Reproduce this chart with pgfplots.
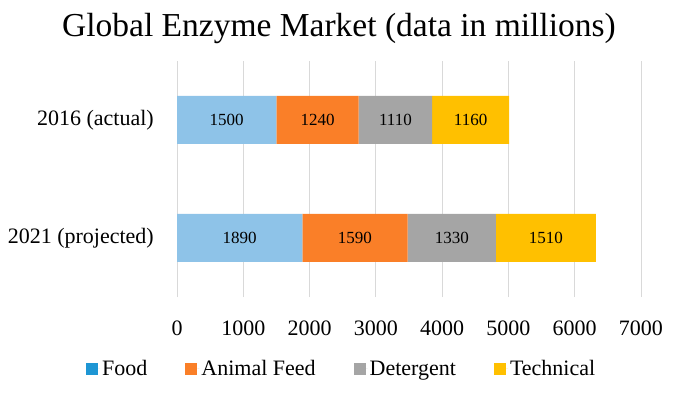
\documentclass[border=0pt]{standalone}
\usepackage{fontspec}
\setmainfont{Liberation Serif}
\usepackage{pgfplots}
\usepackage{pgfplotstable}
\pgfplotsset{compat=1.18}
\definecolor{cfood}{RGB}{142,195,232}
\definecolor{cfoodleg}{RGB}{30,150,212}
\definecolor{cfeed}{RGB}{250,127,40}
\definecolor{cdet}{RGB}{165,165,165}
\definecolor{ctech}{RGB}{255,192,0}
\definecolor{cgrid}{RGB}{217,217,217}
\pgfplotstableread{
cat food feed det tech
0 1890 1590 1330 1510
1 1500 1240 1110 1160
}\data
\begin{document}
\begin{tikzpicture}[font=\fontsize{22bp}{26bp}\selectfont]
\begin{axis}[
  name=ax, at={(177bp,97bp)}, anchor=south west,
  scale only axis, width=464bp, height=236bp,
  xbar stacked, bar width=48bp,
  xmin=0, xmax=7000, ymin=-0.5, ymax=1.5,
  xtick={0,1000,2000,3000,4000,5000,6000,7000},
  ytick={0,1}, yticklabels={2021 (projected),2016 (actual)},
  xmajorgrids, major grid style={draw=cgrid, line width=0.75bp},
  axis line style={draw=none},
  tick style={draw=none},
  scaled x ticks=false,
  /pgf/number format/assume math mode=true,
  /pgf/number format/1000 sep={},
  xticklabel style={anchor=base, yshift=-38bp},
  yticklabel style={anchor=east, inner sep=0pt, xshift=-23bp},
  visualization depends on={rawx \as \rawx},
  nodes near coords={\pgfmathprintnumber{\rawx}},
  nodes near coords style={anchor=center, text=black, font=\fontsize{17bp}{20bp}\selectfont},
  title={Global Enzyme Market (data in millions)},
  title style={font=\fontsize{33.5bp}{38bp}\selectfont, at={(axis description cs:0.349,1)}, anchor=base, yshift=19bp},
  legend columns=4,
  legend style={draw=none, at={(axis description cs:0.355,-0.305)}, anchor=center,
    /tikz/every even column/.append style={column sep=36bp}},
  legend image code/.code={\fill[#1] (0bp,-6bp) rectangle (12bp,6bp); \path (12bp,0) -- (14bp,0);},
]
\addplot[fill=cfood, draw=none, legend image code/.code={\fill[cfoodleg] (0bp,-6bp) rectangle (12bp,6bp); \path (12bp,0) -- (14bp,0);}] table[x=food, y=cat] {\data};
\addplot[fill=cfeed, draw=none] table[x=feed, y=cat] {\data};
\addplot[fill=cdet, draw=none] table[x=det, y=cat] {\data};
\addplot[fill=ctech, draw=none] table[x=tech, y=cat] {\data};
\legend{Food, Animal Feed, Detergent, Technical}
\end{axis}
\pgfresetboundingbox
\path[use as bounding box] (0,0) rectangle (676bp,394bp);
\end{tikzpicture}
\end{document}
